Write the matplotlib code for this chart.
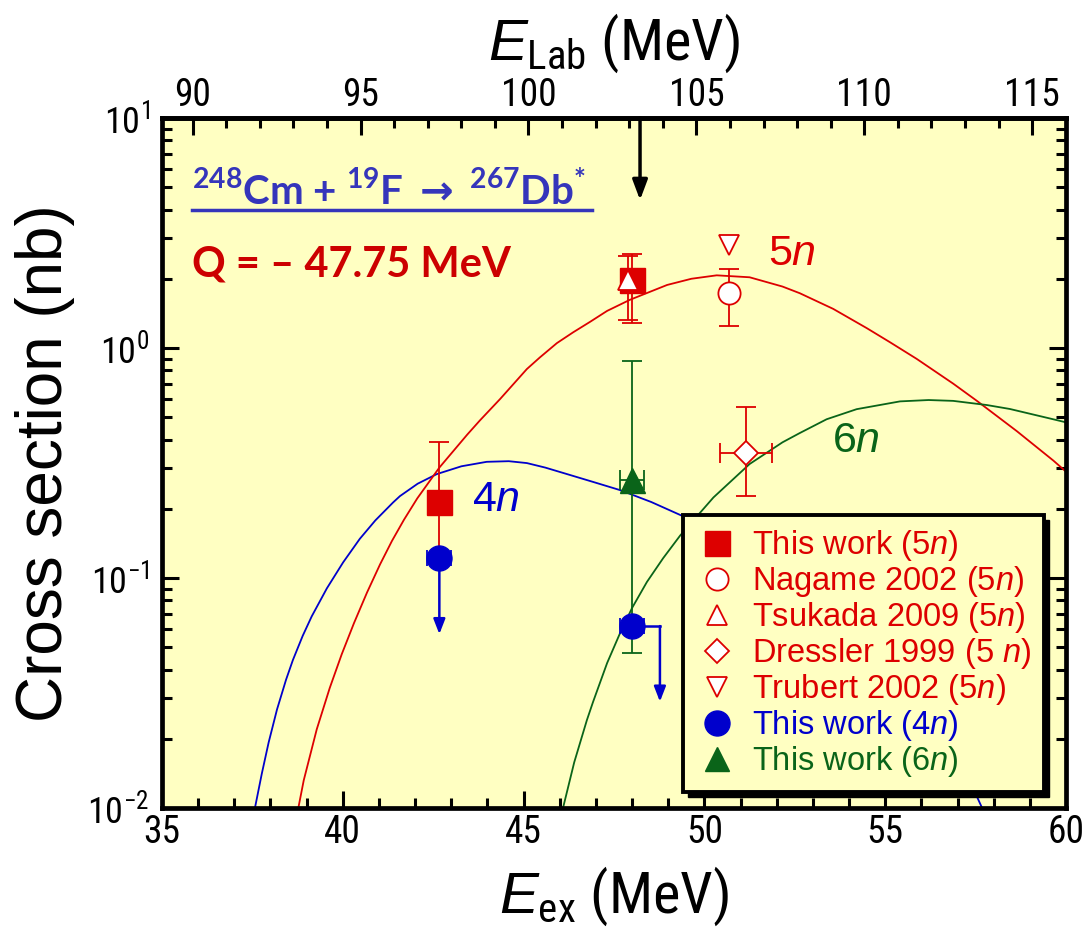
import numpy as np
import matplotlib
matplotlib.use('Agg')
import matplotlib.pyplot as plt
from matplotlib.lines import Line2D
from matplotlib.patches import Rectangle
from matplotlib.ticker import LogLocator, MultipleLocator, FuncFormatter, NullFormatter

# ---------------- data ----------------
# This work 5n (filled red squares)
e5_this = [42.67, 48.00]
s5_this = [0.215, 1.98]
s5_this_lo = [0.13, 1.29]
s5_this_hi = [0.39, 2.57]
# Nagame 2002 (open circle)
e5_nag = [50.68]
s5_nag = [1.73]
s5_nag_lo = [1.25]
s5_nag_hi = [2.20]
# Tsukada 2009 (open triangle)
e5_tsu = [47.89]
s5_tsu = [1.98]
s5_tsu_lo = [1.33]
s5_tsu_hi = [2.50]
# Dressler 1999 (open diamond)
e5_dre = [51.15]
e5_dre_err = [0.73]
s5_dre = [0.35]
s5_dre_lo = [0.227]
s5_dre_hi = [0.553]
# Trubert 2002 (open down triangle)
e5_tru = [50.68]
s5_tru = [2.80]
# This work 4n (upper limits, blue circles)
e4_this = [42.67, 48.00]
s4_this = [0.122, 0.0618]
e4_err = [0.33, 0.33]
e4_arrow_x = [42.67, 48.77]
s4_arrow_to = [0.057, 0.029]
# This work 6n (green triangle)
e6_this = [48.00]
s6_this = [0.267]
s6_lo = [0.0473]
s6_hi = [0.88]
e6_err = [0.33]

# calculated excitation functions
curve4n_e = [37.57, 37.76, 37.95, 38.18, 38.43, 38.62, 38.89, 39.14, 39.56, 40.01, 40.47, 40.90,
             41.39, 41.58, 42.07, 42.60, 43.28, 43.98, 44.59, 45.09, 45.60, 46.20, 46.91, 47.67,
             48.53, 49.33, 50.14, 51.15, 52.16, 53.17, 54.18, 55.19, 56.20, 57.01, 57.45, 57.68]
curve4n_s = [0.0100, 0.0141, 0.0193, 0.0268, 0.0361, 0.0440, 0.0560, 0.0681, 0.0902, 0.117, 0.148, 0.178,
             0.213, 0.227, 0.257, 0.283, 0.306, 0.320, 0.322, 0.316, 0.302, 0.283, 0.262, 0.241,
             0.214, 0.188, 0.165, 0.135, 0.107, 0.082, 0.060, 0.042, 0.025, 0.016, 0.0120, 0.0100]

curve5n_e = [38.77, 38.92, 39.28, 39.64, 39.97, 40.31, 40.67, 41.03, 41.36, 41.69, 42.06, 42.67,
             43.44, 43.79, 44.35, 45.09, 45.45, 45.92, 46.37, 46.84, 47.31, 47.94, 48.97, 49.64,
             50.34, 51.25, 52.16, 52.64, 53.10, 53.56, 54.49, 55.13, 55.87, 56.88, 57.53,
             58.64, 59.65, 60.00]
curve5n_s = [0.0100, 0.0132, 0.0220, 0.0333, 0.0466, 0.0637, 0.0865, 0.1146, 0.145, 0.179, 0.222, 0.302,
             0.420, 0.484, 0.600, 0.810, 0.910, 1.05, 1.17, 1.30, 1.45, 1.62, 1.88, 2.00,
             2.07, 2.03, 1.85, 1.73, 1.60, 1.48, 1.22, 1.06, 0.897, 0.700, 0.590,
             0.435, 0.324, 0.290]

curve6n_e = [46.09, 46.40, 46.75, 46.92, 47.31, 47.67, 48.00, 48.41, 48.86, 49.33, 50.25, 51.25,
             52.16, 52.64, 53.38, 54.21, 55.41, 56.20, 56.88, 57.81, 58.45, 59.74, 60.00]
curve6n_s = [0.0100, 0.0158, 0.0241, 0.0289, 0.0427, 0.0577, 0.0741, 0.0961, 0.122, 0.153, 0.224, 0.313,
             0.389, 0.427, 0.490, 0.542, 0.586, 0.594, 0.589, 0.565, 0.543, 0.486, 0.475]

# beam energy marker (E_ex) and reaction Q value
e_beam = 48.22
q_value = -47.75
mass_ratio = 248.0 / 267.0

legend_labels = ['This work (5$n$)', 'Nagame 2002 (5$n$)', 'Tsukada 2009 (5$n$)',
                 'Dressler 1999 (5 $n$)', 'Trubert 2002 (5$n$)', 'This work (4$n$)',
                 'This work (6$n$)']

# ---------------- style ----------------
NARROW = ['Liberation Sans Narrow', 'Roboto Condensed', 'DejaVu Sans Condensed', 'Liberation Sans']
plt.rcParams['font.family'] = NARROW
plt.rcParams['mathtext.fontset'] = 'custom'
plt.rcParams['mathtext.rm'] = 'Liberation Sans'
plt.rcParams['mathtext.it'] = 'Liberation Sans:italic'
plt.rcParams['mathtext.bf'] = 'Lato:bold'
plt.rcParams['mathtext.sf'] = 'DejaVu Sans:bold'

RED = '#DD0000'
BLUE = '#0000CC'
GREEN = '#0A6419'
BG = '#FFFFC2'

fig = plt.figure(figsize=(10.89, 9.38), dpi=100)
ax = fig.add_axes([162/1089, 1-808/938, 904/1089, 690/938])
ax.set_facecolor(BG)
ax.set_yscale('log')
ax.set_xlim(35, 60)
ax.set_ylim(0.01, 10)

# curves
ax.plot(curve4n_e, curve4n_s, color=BLUE, lw=1.3, zorder=2)
ax.plot(curve5n_e, curve5n_s, color=RED, lw=1.3, zorder=2)
ax.plot(curve6n_e, curve6n_s, color=GREEN, lw=1.3, zorder=2)

def yerr(s, lo, hi):
    return [np.array(s) - np.array(lo), np.array(hi) - np.array(s)]

cap = 7
elw = 1.3
ax.errorbar(e5_this, s5_this, yerr=yerr(s5_this, s5_this_lo, s5_this_hi), fmt='s', ms=18,
            color=RED, mfc=RED, mec=RED, ecolor=RED, elinewidth=elw, capsize=cap, capthick=elw, zorder=4)
ax.errorbar(e5_tsu, s5_tsu, yerr=yerr(s5_tsu, s5_tsu_lo, s5_tsu_hi), fmt='^', ms=14,
            mfc='white', mec=RED, mew=1.3, ecolor=RED, elinewidth=elw, capsize=cap, capthick=elw, zorder=5)
ax.errorbar(e5_nag, s5_nag, yerr=yerr(s5_nag, s5_nag_lo, s5_nag_hi), fmt='o', ms=16,
            mfc='white', mec=RED, mew=1.3, ecolor=RED, elinewidth=elw, capsize=cap, capthick=elw, zorder=4)
ax.errorbar(e5_dre, s5_dre, xerr=e5_dre_err, yerr=yerr(s5_dre, s5_dre_lo, s5_dre_hi), fmt='D', ms=12,
            mfc='white', mec=RED, mew=1.3, ecolor=RED, elinewidth=elw, capsize=cap, capthick=elw, zorder=4)
ax.plot(e5_tru, s5_tru, 'v', ms=15, mfc='white', mec=RED, mew=1.3, zorder=4)
ax.errorbar(e6_this, s6_this, xerr=e6_err, yerr=yerr(s6_this, s6_lo, s6_hi), fmt='^', ms=18,
            color=GREEN, mfc=GREEN, mec=GREEN, ecolor=GREEN, elinewidth=elw, capsize=cap, capthick=elw, zorder=4)
ax.errorbar(e4_this, s4_this, xerr=e4_err, fmt='o', ms=18, color=BLUE, mfc=BLUE, mec=BLUE,
            ecolor=BLUE, elinewidth=elw, capsize=6, capthick=elw, zorder=6)
for x0, y0, xa, ya in zip(e4_this, s4_this, e4_arrow_x, s4_arrow_to):
    if xa != x0:
        ax.plot([x0, xa], [y0, y0], color=BLUE, lw=1.8, zorder=5)
    ax.annotate('', xy=(xa, ya), xytext=(xa, y0),
                arrowprops=dict(arrowstyle='-|>,head_length=0.9,head_width=0.35', color=BLUE, lw=1.8,
                                shrinkA=0, shrinkB=0), zorder=5)

# beam energy arrow
ax.annotate('', xy=(e_beam, 4.4), xytext=(e_beam, 10),
            arrowprops=dict(arrowstyle='-|>,head_length=1.2,head_width=0.45', color='black', lw=2.5,
                            shrinkA=0, shrinkB=0), zorder=6)

# labels on curves
ax.text(51.76, 2.55, '5$n$', color=RED, fontsize=31, family='Liberation Sans', va='center', ha='left')
ax.text(43.57, 0.218, '4$n$', color=BLUE, fontsize=31, family='Liberation Sans', va='center', ha='left')
ax.text(53.53, 0.394, '6$n$', color=GREEN, fontsize=31, family='Liberation Sans', va='center', ha='left')

# reaction annotation
ax.text(0.0332, 0.874,
        r'$^{\mathbf{248}}$Cm + $^{\mathbf{19}}$F $\mathsf{\rightarrow}$ $^{\mathbf{267}}$Db$^{\mathbf{*}}$',
        transform=ax.transAxes, color='#3535BB', fontsize=29, family='Lato', weight='bold',
        ha='left', va='baseline')
ax.plot([0.0332, 0.4757], [0.8667, 0.8667], transform=ax.transAxes, color='#3535BB', lw=2.5, zorder=6)
ax.text(0.0332, 0.7696, 'Q = \u2013 47.75 MeV', transform=ax.transAxes, color='#CC0000', fontsize=30,
        family='Lato', weight='bold', ha='left', va='baseline')

# axes, ticks
for sp in ax.spines.values():
    sp.set_linewidth(3.4)
ax.xaxis.set_major_locator(MultipleLocator(5))
ax.xaxis.set_minor_locator(MultipleLocator(1))
ax.yaxis.set_major_locator(LogLocator(base=10, numticks=10))
ax.yaxis.set_minor_locator(LogLocator(base=10, subs=np.arange(2, 10), numticks=10))
ax.yaxis.set_minor_formatter(NullFormatter())
ax.yaxis.set_major_formatter(FuncFormatter(lambda v, p: r'$\mathregular{10^{%d}}$' % round(np.log10(v))))
ax.tick_params(which='major', direction='in', length=12, width=2.2, labelsize=27, pad=4,
               top=False, right=True, bottom=True, left=True)
ax.tick_params(which='minor', direction='in', length=7, width=2.2, top=False, right=True)
ax.tick_params(axis='y', labelsize=26, pad=9)

ax.set_xlabel(r'$E_{\mathregular{ex}}$ (MeV)', fontsize=42, labelpad=10)
ax.set_ylabel('Cross section (nb)', fontsize=46, family='Liberation Sans', labelpad=9)

def ex_to_lab(x):
    return (np.asarray(x) - q_value) / mass_ratio

def lab_to_ex(x):
    return np.asarray(x) * mass_ratio + q_value

sec = ax.secondary_xaxis('top', functions=(ex_to_lab, lab_to_ex))
sec.xaxis.set_major_locator(MultipleLocator(5))
sec.xaxis.set_minor_locator(MultipleLocator(1))
sec.tick_params(which='major', direction='in', length=12, width=2.2, labelsize=27, pad=3)
sec.tick_params(which='minor', direction='in', length=7, width=2.2)
sec.spines['top'].set_linewidth(3.4)
sec.set_xlabel(r'$E_{\mathregular{Lab}}$ (MeV)', fontsize=42, labelpad=12)

# legend
handles = [
    Line2D([], [], ls='none', marker='s', ms=18, mfc=RED, mec=RED),
    Line2D([], [], ls='none', marker='o', ms=16, mfc='white', mec=RED, mew=1.3),
    Line2D([], [], ls='none', marker='^', ms=15, mfc='white', mec=RED, mew=1.3),
    Line2D([], [], ls='none', marker='D', ms=12, mfc='white', mec=RED, mew=1.3),
    Line2D([], [], ls='none', marker='v', ms=15, mfc='white', mec=RED, mew=1.3),
    Line2D([], [], ls='none', marker='o', ms=18, mfc=BLUE, mec=BLUE),
    Line2D([], [], ls='none', marker='^', ms=17, mfc=GREEN, mec=GREEN),
]
leg = ax.legend(handles, legend_labels, loc='upper left', bbox_to_anchor=(0.5763, 0.4246),
                frameon=True, fancybox=False, framealpha=1, facecolor=BG, edgecolor='black',
                labelspacing=0.03, handlelength=1.3, handletextpad=0.4, borderpad=0.4,
                borderaxespad=0, prop={'family': 'Liberation Sans', 'size': 23.5})
leg.get_frame().set_linewidth(2.8)
for t, c in zip(leg.get_texts(), [RED]*5 + [BLUE, GREEN]):
    t.set_color(c)
leg.set_zorder(10)

# solid drop shadow behind the legend box
fig.canvas.draw()
bb = leg.get_frame().get_window_extent(fig.canvas.get_renderer()).transformed(ax.transAxes.inverted())
dx, dy = 5 / 904, 5 / 690
ax.add_patch(Rectangle((bb.x0 + dx, bb.y0 - dy), bb.width, bb.height, transform=ax.transAxes,
                       facecolor='black', edgecolor='black', zorder=9, clip_on=False))

fig.savefig('out.png', dpi=100)
